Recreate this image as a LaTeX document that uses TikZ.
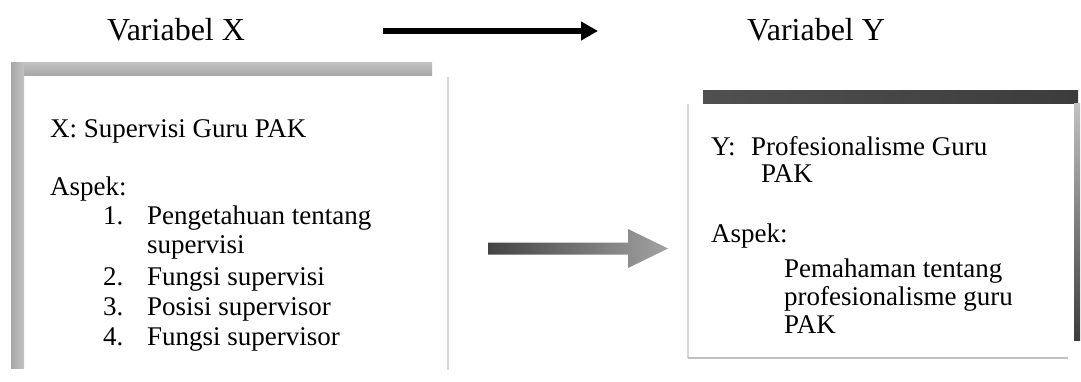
\documentclass[tikz,border=0pt]{standalone}
\usepackage{fontspec}
\setmainfont{Liberation Serif}
\usetikzlibrary{calc,arrows.meta}
\definecolor{barmid}{HTML}{A8A8A8}
\definecolor{barlite}{HTML}{C2C2C2}
\definecolor{bardark}{HTML}{505050}
\definecolor{bardeep}{HTML}{3C3C3C}
\definecolor{edgeline}{HTML}{D6D6D6}
\definecolor{shaftdark}{HTML}{444444}
\definecolor{headlite}{HTML}{A2A2A2}
\begin{document}
\begin{tikzpicture}[x=1pt,y=-1pt,
  txt/.style={anchor=base west, inner sep=0pt, font=\fontsize{27}{30}\selectfont},
  ttl/.style={anchor=base west, inner sep=0pt, font=\fontsize{32}{36}\selectfont},
  thinedge/.style={draw=edgeline, line width=1.3pt}]
\useasboundingbox[fill=white] (0,0) rectangle (1081,381);

% headings
\node[ttl] (vx) at (107,40) {Variabel X};
\node[ttl] (vy) at (747,40) {Variabel Y};

% arrow between the headings
\coordinate (tA) at (383,31);
\coordinate (tB) at (598,31);
\draw[line width=5.5pt, -{Triangle[length=17pt,width=18pt]}] (tA) -- (tB);

% left frame: shaded top and left bars, faint right edge
\shade[top color=barlite, bottom color=barmid] (11,62) rectangle (432,75);
\shade[left color=barmid, right color=barlite] (11,62) rectangle (24,368);
\draw[thinedge] (448,77) -- (448,370);

% left frame text
\node[txt] (xt) at (50,137) {X: Supervisi Guru PAK};
\node[txt] (xa) at (50,195) {Aspek:};
\node[txt] (n1) at (103,224) {1.};
\node[txt] (i1) at (147,224) {Pengetahuan tentang};
\node[txt] (i1b) at (147,253) {supervisi};
\node[txt] (n2) at (103,285) {2.};
\node[txt] (i2) at (147,285) {Fungsi supervisi};
\node[txt] (n3) at (103,315) {3.};
\node[txt] (i3) at (147,315) {Posisi supervisor};
\node[txt] (n4) at (103,345) {4.};
\node[txt] (i4) at (147,345) {Fungsi supervisor};

% right frame: dark top bar, faint left and bottom edges, shaded right bar
\shade[left color=bardark, right color=bardeep] (703,90) rectangle (1078,103);
\draw[thinedge] (688,104) -- (688,358);
\draw[draw=edgeline!90!black, line width=1.5pt] (688,358) -- (1068,358);
\shade[top color=barlite, bottom color=bardeep] (1074,103) rectangle (1080,340);

% right frame text
\node[txt] (yl) at (711,155) {Y:};
\node[txt] (yt) at (751,155) {Profesionalisme Guru};
\node[txt] (yt2) at (761,182) {PAK};
\node[txt] (ya) at (711,242) {Aspek:};
\node[txt] (j1) at (784,277) {Pemahaman tentang};
\node[txt] (j2) at (784,305) {profesionalisme guru};
\node[txt] (j3) at (784,333) {PAK};

% broad shaded arrow from X to Y
\coordinate (bA) at (488,248.5);
\coordinate (bB) at (668,248.5);
\shade[left color=shaftdark, right color=headlite]
  ($(bA)+(0,-6)$) -- ($(bB)+(-40,-6)$) -- ($(bB)+(-40,-19.5)$) -- (bB)
  -- ($(bB)+(-40,19.5)$) -- ($(bB)+(-40,6)$) -- ($(bA)+(0,6)$) -- cycle;
\end{tikzpicture}
\end{document}
